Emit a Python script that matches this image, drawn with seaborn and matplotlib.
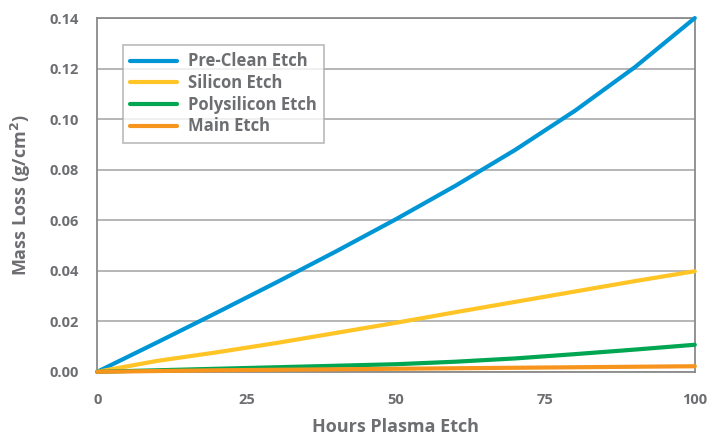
import pandas as pd
import seaborn as sns
import matplotlib.pyplot as plt

hours = [0, 10, 20, 30, 40, 50, 60, 70, 80, 90, 100]
pre_clean = [0.0, 0.0116, 0.0234, 0.0354, 0.0477, 0.0604, 0.0737, 0.0879, 0.1034, 0.1206, 0.1400]
silicon = [0.0, 0.0043, 0.0077, 0.0114, 0.0154, 0.0194, 0.0236, 0.0277, 0.0318, 0.0359, 0.0398]
polysilicon = [0.0, 0.0006, 0.0012, 0.0018, 0.0024, 0.0030, 0.0040, 0.0053, 0.0070, 0.0088, 0.0107]
main_etch = [0.0, 0.0003, 0.0006, 0.0008, 0.0010, 0.0012, 0.0014, 0.0016, 0.0018, 0.0020, 0.0022]

series = {'Pre-Clean Etch': pre_clean,
          'Silicon Etch': silicon,
          'Polysilicon Etch': polysilicon,
          'Main Etch': main_etch}
colors = ['#0096d6', '#ffc425', '#00a651', '#f7941d']

df = pd.DataFrame(series, index=hours)
df.index.name = 'hours'
long_df = df.reset_index().melt(id_vars='hours', var_name='etch', value_name='loss')

sns.set_style('white')
plt.rcParams['font.family'] = ['Open Sans', 'DejaVu Sans']
grey = '#6d6e71'

fig, ax = plt.subplots(figsize=(7.2, 4.4), dpi=100)
fig.subplots_adjust(left=0.135, right=0.965, top=0.959, bottom=0.155)

sns.lineplot(data=long_df, x='hours', y='loss', hue='etch', palette=colors,
             linewidth=3, ax=ax, clip_on=False, zorder=3)

ax.set_xlim(0, 100)
ax.set_ylim(0, 0.14)
ax.set_xticks([0, 25, 50, 75, 100])
ax.set_yticks([0.0, 0.02, 0.04, 0.06, 0.08, 0.10, 0.12, 0.14])
ax.set_yticklabels([f'{v:.2f}' for v in ax.get_yticks()])
ax.yaxis.grid(True, color='#a7a9ac', linewidth=1.2)
ax.set_axisbelow(True)
for s in ax.spines.values():
    s.set_color('#8a8a8a')
    s.set_linewidth(1.3)
ax.tick_params(axis='both', direction='out', length=9, width=1.2, color='#8a8a8a',
               labelcolor=grey, labelsize=10.5, pad=6)
ax.tick_params(axis='y', pad=4)
for lab in ax.get_xticklabels() + ax.get_yticklabels():
    lab.set_fontweight('bold')

ax.set_xlabel('Hours Plasma Etch', color=grey, fontsize=13, fontweight='bold', labelpad=8)
ax.set_ylabel('Mass Loss (g/cm$^\\mathbf{2}$)', color=grey, fontsize=13, fontweight='bold', labelpad=12)

leg = ax.legend(loc='upper left', bbox_to_anchor=(0.043, 0.924), borderaxespad=0,
                frameon=True, fancybox=False,
                handlelength=2.8, handletextpad=0.65, borderpad=0.45, labelspacing=0.22,
                prop={'weight': 'bold', 'size': 12})
leg.get_frame().set_edgecolor('#a7a9ac')
leg.get_frame().set_linewidth(1.2)
for t in leg.get_texts():
    t.set_color(grey)
for h in leg.get_lines():
    h.set_linewidth(3)

fig.savefig('out.png', dpi=100)
